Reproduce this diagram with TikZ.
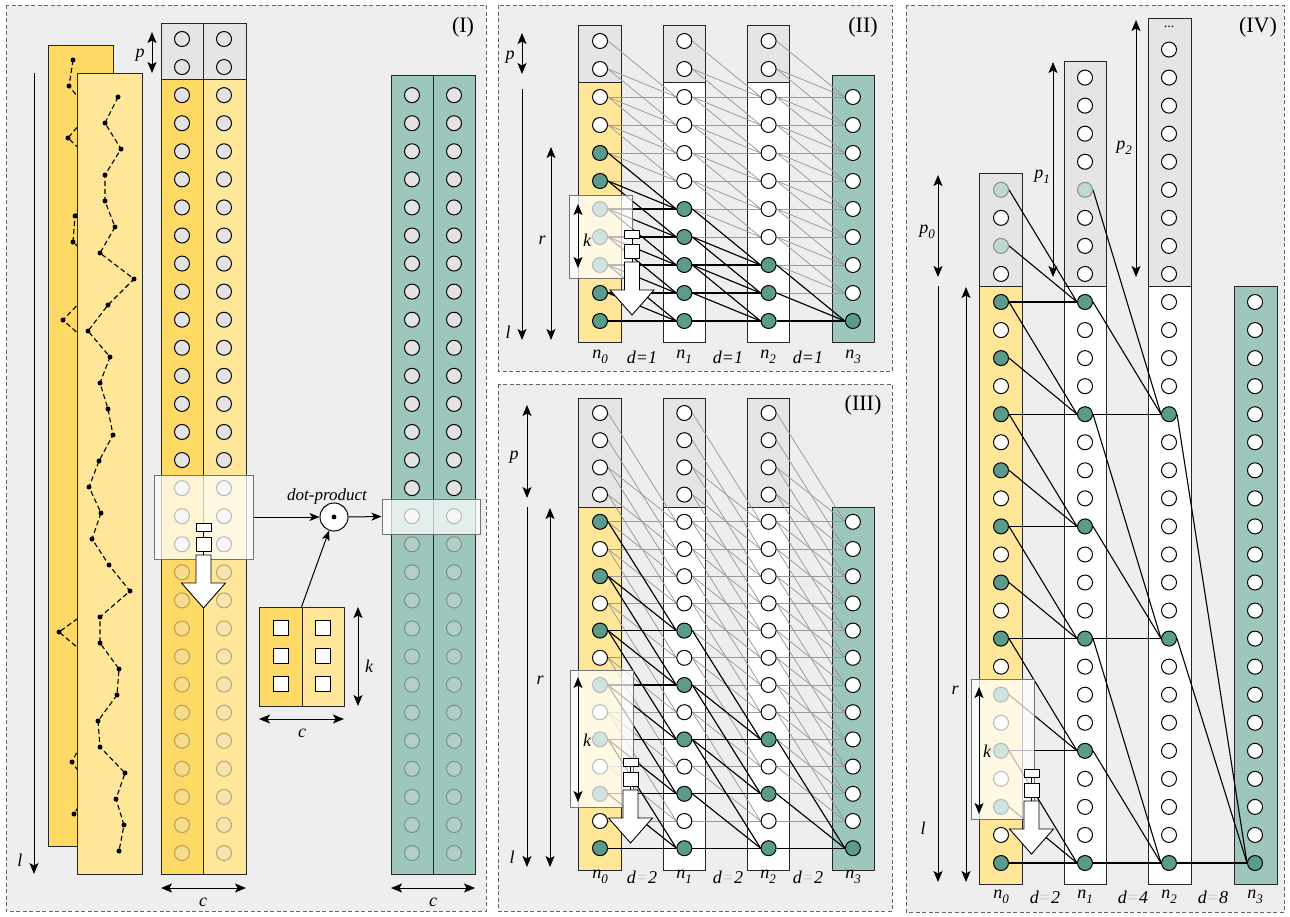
\documentclass[tikz,border=0pt]{standalone}
\usepackage{fontspec}
\setmainfont{Liberation Serif}
\usetikzlibrary{arrows.meta}
\pgfdeclarelayer{bg}
\pgfdeclarelayer{cols}
\pgfdeclarelayer{edges}
\pgfdeclarelayer{front}
\pgfdeclarelayer{top}
\pgfsetlayers{bg,cols,edges,main,front,top}
\definecolor{panelbg}{HTML}{EEEEEE}
\definecolor{yelD}{HTML}{FFD966}
\definecolor{yelL}{HTML}{FFE699}
\definecolor{padg}{HTML}{E5E5E5}
\definecolor{tealC}{HTML}{9DC6BC}
\definecolor{tealF}{HTML}{5A9B8B}
\definecolor{circg}{HTML}{E3E3E3}
\definecolor{framec}{HTML}{666666}
\newcommand\gatedraw[2]{%
 \draw[line width=0.9pt, fill=white] (#1-7.5,#2) rectangle (#1+7.5,#2+8);
 \draw[line width=0.9pt] (#1,#2+8) -- (#1,#2+14);
 \draw[line width=0.9pt, fill=white] (#1-7.5,#2+14) rectangle (#1+7.5,#2+28);
 \draw[line width=0.9pt] (#1,#2+28) -- (#1,#2+32);
 \draw[line width=0.9pt, fill=white] (#1-7.5,#2+32) -- (#1+7.5,#2+32) -- (#1+7.5,#2+60) -- (#1+22,#2+60) -- (#1,#2+85) -- (#1-22,#2+60) -- (#1-7.5,#2+60) -- cycle;}
\newcommand\nsub[2]{\textit{#1}\raisebox{-0.28em}{\fontsize{13}{13}\selectfont\textit{#2}}}
\newcommand\deq[2]{\textit{d}{\color{#1}=}\textit{#2}}
\tikzset{
 panel/.style={fill=panelbg, draw=framec, line width=0.8pt, dash pattern=on 4pt off 2.5pt},
 col/.style={draw=black!85, line width=1pt},
 cel/.style={circle, draw=black, line width=1pt, minimum size=15pt, inner sep=0pt, fill=white},
 celg/.style={cel, fill=circg},
 celt/.style={cel, fill=tealF},
 celfade/.style={cel, fill=circg, draw opacity=0.28, fill opacity=0.3},
 celft/.style={cel, fill=tealF!38, draw=gray!90},
 wind/.style={draw=black!55, line width=1pt, fill=white, fill opacity=0.72},
 gedge/.style={draw=gray!80, line width=0.75pt},
 bedge/.style={draw=black, line width=1.1pt},
 dim/.style={{Stealth[length=11pt,width=9pt,inset=2.5pt]}-{Stealth[length=11pt,width=9pt,inset=2.5pt]}, line width=1pt},
 dimd/.style={-{Stealth[length=11pt,width=9pt,inset=2.5pt]}, line width=1pt},
 conn/.style={-{Stealth[length=10pt,width=8pt,inset=2.5pt]}, line width=1pt},
 lab/.style={font=\fontsize{18}{18}\selectfont\itshape, inner sep=0pt},
 plab/.style={font=\fontsize{22}{22}\selectfont, inner sep=0pt},
 zig/.style={line width=1.1pt, dash pattern=on 5pt off 3pt},
}
\def\backzig{73/60,69/86,90/112,68/138,95/164,85/190,75/216,73/242,100/268,88/294,63/320,92/346,100/372,85/398,105/424,95/450,88/476,100/502,110/528,90/554,85/580,95/606,59/632,90/658,80/684,95/710,85/736,72/762,90/788,74/814}
\def\frontzig{118/97,105/123,121/149,105/175,105/201,115/227,100/253,134/279,108/305,88/331,110/357,100/383,108/409,113/435,99/461,89/487,101/513,92/539,109/565,130/591,100/617,100/643,119/669,117/695,98/721,100/747,125/773,116/799,124/825,119/851}
\begin{document}
\begin{tikzpicture}[x=1pt,y=-1pt]
\useasboundingbox (0,0) rectangle (1290,916);
\begin{pgfonlayer}{bg}
\fill[white] (0,0) rectangle (1290,916);
\draw[panel] (6,5) rectangle (486,911);
\draw[panel] (498,5) rectangle (892,371);
\draw[panel] (498,384) rectangle (892,911);
\draw[panel] (906,5) rectangle (1284,912);
\end{pgfonlayer}
% ================= PANEL I =================
\begin{pgfonlayer}{cols}
\draw[col, fill=yelD] (48,45) rectangle (113,846);
\draw[zig] (73,60) \foreach \xx/\yy in \backzig {-- (\xx,\yy)};
\foreach \xx/\yy in \backzig {\fill (\xx,\yy) circle (2.5pt);}
\draw[col, fill=yelL] (77,73) rectangle (142,874);
\draw[zig] (118,97) \foreach \xx/\yy in \frontzig {-- (\xx,\yy)};
\foreach \xx/\yy in \frontzig {\fill (\xx,\yy) circle (2.5pt);}
\draw[col, fill=padg] (161,23) rectangle (203,79);
\draw[col, fill=padg] (203,23) rectangle (246,79);
\draw[col, fill=yelD] (161,79) rectangle (203,874);
\draw[col, fill=yelL] (203,79) rectangle (246,874);
\draw[col, fill=tealC] (391,75) rectangle (433,874);
\draw[col, fill=tealC] (433,75) rectangle (475,874);
\draw[col, fill=yelD] (259,607) rectangle (302,706);
\draw[col, fill=yelL] (302,607) rectangle (344,706);
\end{pgfonlayer}
\foreach \ii in {0,...,29}{
  \pgfmathsetmacro{\yy}{39+28.07*\ii}
  \ifnum\ii<19 \def\sty{celg}\else\def\sty{celfade}\fi
  \node[\sty] (P1a\ii) at (182,\yy) {};
  \node[\sty] (P1b\ii) at (224,\yy) {};
}
\foreach \ii in {2,...,29}{
  \pgfmathsetmacro{\yy}{39+28.07*\ii}
  \ifnum\ii<18 \def\sty{celg}\else\def\sty{celfade}\fi
  \node[\sty] (P1o\ii) at (412,\yy) {};
  \node[\sty] (P1p\ii) at (454,\yy) {};
}
\foreach \ki/\kx/\ky in {1/281/628,2/281/656,3/281/684,4/323/628,5/323/656,6/323/684}{
  \node[draw, line width=1pt, fill=white, minimum size=15pt, inner sep=0pt] (K\ki) at (\kx,\ky) {};
}
\node[minimum width=85pt, minimum height=99pt, inner sep=0pt] (kern) at (301.5,656.5) {};
\node[circle, draw, line width=1pt, fill=white, minimum size=28pt, inner sep=0pt] (dotp) at (334,517) {};
\fill (dotp.center) circle (2.4pt);
\node[font=\fontsize{17}{17}\selectfont\itshape, inner sep=0pt] (dotlab) at (327,496) {dot-product};
\begin{pgfonlayer}{front}
\node[wind, minimum width=99pt, minimum height=84pt, inner sep=0pt] (P1win) at (203.5,517) {};
\node[wind, minimum width=98pt, minimum height=35pt, inner sep=0pt] (P1owin) at (431,516.5) {};
\end{pgfonlayer}
\begin{pgfonlayer}{top}
\gatedraw{203.5}{523}
\end{pgfonlayer}
\draw[conn] (P1win.east) -- (dotp.west);
\draw[conn] (dotp.east) -- (P1owin.west);
\draw[conn] (kern.north) -- (dotp);
\coordinate (P1la) at (34,73); \coordinate (P1lb) at (34,874);
\draw[dimd] (P1la) -- (P1lb);
\node[lab] (P1ll) at (20,860) {l};
\coordinate (P1pa) at (152,32); \coordinate (P1pb) at (152,73);
\draw[dim] (P1pa) -- (P1pb);
\node[lab] (P1pl) at (140,55) {p};
\coordinate (P1ca) at (161,888); \coordinate (P1cb) at (246,888);
\draw[dim] (P1ca) -- (P1cb);
\node[lab] (P1cl) at (203,902) {c};
\coordinate (P1oa) at (391,888); \coordinate (P1ob) at (475,888);
\draw[dim] (P1oa) -- (P1ob);
\node[lab] (P1ocl) at (433,902) {c};
\coordinate (P1ka) at (358,607); \coordinate (P1kb) at (358,706);
\draw[dim] (P1ka) -- (P1kb);
\node[lab] (P1kl) at (369,666) {k};
\coordinate (P1kca) at (259,719); \coordinate (P1kcb) at (344,719);
\draw[dim] (P1kca) -- (P1kcb);
\node[lab] (P1kcl) at (302,733) {c};
\node[plab] (P1t) at (463,27) {(I)};
% ================= PANEL II =================
\begin{pgfonlayer}{cols}
\draw[col, fill=padg] (578,25) rectangle (621,82);
\draw[col, fill=yelL] (578,82) rectangle (621,342);
\draw[col, fill=padg] (663,25) rectangle (705,82);
\draw[col, fill=white] (663,82) rectangle (705,342);
\draw[col, fill=padg] (747,25) rectangle (789,82);
\draw[col, fill=white] (747,82) rectangle (789,342);
\draw[col, fill=tealC] (832,75) rectangle (874,342);
\end{pgfonlayer}
\foreach \ci/\xx in {0/600,1/684.3,2/768.6,3/852.9}{
  \pgfmathtruncatemacro{\th}{4+2*\ci}
  \pgfmathtruncatemacro{\sj}{\ci==3 ? 2 : 0}
  \foreach \ji in {\sj,...,10}{
    \ifnum\ji<\th \def\sty{cel}\else\def\sty{celt}\fi
    \node[\sty] (P2c\ci r\ji) at (\xx,{41+28*\ji}) {};
  }
}
\begin{pgfonlayer}{edges}
\foreach \ci in {1,2,3}{
  \pgfmathtruncatemacro{\pci}{\ci-1}
  \foreach \ji in {2,...,10}{
    \foreach \di in {0,1,2}{
      \pgfmathtruncatemacro{\si}{\ji-\di}
      \draw[gedge] (P2c\pci r\si.east) -- (P2c\ci r\ji.west);
    }
  }
}
\foreach \ci/\lst in {1/{6,7,8,9,10},2/{8,9,10},3/{10}}{
  \pgfmathtruncatemacro{\pci}{\ci-1}
  \foreach \ji in \lst{
    \foreach \di in {0,1,2}{
      \pgfmathtruncatemacro{\si}{\ji-\di}
      \draw[bedge] (P2c\pci r\si.east) -- (P2c\ci r\ji.west);
    }
  }
}
\end{pgfonlayer}
\begin{pgfonlayer}{front}
\draw[wind] (569,195) rectangle (632,278);
\end{pgfonlayer}
\begin{pgfonlayer}{top}
\gatedraw{632}{230}
\coordinate (P2ka) at (578,204); \coordinate (P2kb) at (578,268);
\draw[dim] (P2ka) -- (P2kb);
\node[lab] (P2kl) at (587,240) {k};
\end{pgfonlayer}
\coordinate (P2pa) at (522,33); \coordinate (P2pb) at (522,74);
\draw[dim] (P2pa) -- (P2pb);
\node[lab] (P2pl) at (510,57) {p};
\coordinate (P2la) at (522,89); \coordinate (P2lb) at (522,340);
\draw[dimd] (P2la) -- (P2lb);
\node[lab] (P2ll) at (508,332) {l};
\coordinate (P2ra) at (551,147); \coordinate (P2rb) at (551,340);
\draw[dim] (P2ra) -- (P2rb);
\node[lab] (P2rl) at (542,240) {r};
\node[lab] (P2n0) at (600,357) {\nsub{n}{0}};
\node[lab] (P2d1) at (642,357) {\deq{black}{1}};
\node[lab] (P2n1) at (684,357) {\nsub{n}{1}};
\node[lab] (P2d2) at (728,357) {\deq{black}{1}};
\node[lab] (P2n2) at (768,357) {\nsub{n}{2}};
\node[lab] (P2d3) at (808,357) {\deq{black}{1}};
\node[lab] (P2n3) at (853,357) {\nsub{n}{3}};
\node[plab] (P2t) at (863,27) {(II)};
% ================= PANEL III =================
\begin{pgfonlayer}{cols}
\draw[col, fill=padg] (578,398) rectangle (621,507);
\draw[col, fill=yelL] (578,507) rectangle (621,870);
\draw[col, fill=padg] (663,398) rectangle (705,507);
\draw[col, fill=white] (663,507) rectangle (705,870);
\draw[col, fill=padg] (747,398) rectangle (789,507);
\draw[col, fill=white] (747,507) rectangle (789,870);
\draw[col, fill=tealC] (832,507) rectangle (874,870);
\end{pgfonlayer}
\foreach \ci/\xx in {0/600,1/684.3,2/768.6,3/852.9}{
  \pgfmathtruncatemacro{\th}{4+4*\ci}
  \pgfmathtruncatemacro{\sj}{\ci==3 ? 4 : 0}
  \foreach \ji in {\sj,...,16}{
    \pgfmathtruncatemacro{\ev}{mod(\ji,2)}
    \def\sty{cel}
    \ifnum\ji<\th\else\ifnum\ev=0 \def\sty{celt}\fi\fi
    \node[\sty] (P3c\ci r\ji) at (\xx,{413+27.2*\ji}) {};
  }
}
\begin{pgfonlayer}{edges}
\foreach \ci in {1,2,3}{
  \pgfmathtruncatemacro{\pci}{\ci-1}
  \foreach \ji in {4,...,16}{
    \foreach \di in {0,2,4}{
      \pgfmathtruncatemacro{\si}{\ji-\di}
      \draw[gedge] (P3c\pci r\si.east) -- (P3c\ci r\ji.west);
    }
  }
}
\foreach \ci/\lst in {1/{8,10,12,14,16},2/{12,14,16},3/{16}}{
  \pgfmathtruncatemacro{\pci}{\ci-1}
  \foreach \ji in \lst{
    \foreach \di in {0,2,4}{
      \pgfmathtruncatemacro{\si}{\ji-\di}
      \draw[bedge] (P3c\pci r\si.east) -- (P3c\ci r\ji.west);
    }
  }
}
\end{pgfonlayer}
\begin{pgfonlayer}{front}
\draw[wind] (570,670) rectangle (633,807);
\end{pgfonlayer}
\begin{pgfonlayer}{top}
\gatedraw{630.5}{758}
\coordinate (P3ka) at (578,677); \coordinate (P3kb) at (578,802);
\draw[dim] (P3ka) -- (P3kb);
\node[lab] (P3kl) at (587,740) {k};
\end{pgfonlayer}
\coordinate (P3pa) at (527,405); \coordinate (P3pb) at (527,498);
\draw[dim] (P3pa) -- (P3pb);
\node[lab] (P3pl) at (514,457) {p};
\coordinate (P3la) at (527,507); \coordinate (P3lb) at (527,867);
\draw[dimd] (P3la) -- (P3lb);
\node[lab] (P3ll) at (512,857) {l};
\coordinate (P3ra) at (550,508); \coordinate (P3rb) at (550,867);
\draw[dim] (P3ra) -- (P3rb);
\node[lab] (P3rl) at (540,680) {r};
\node[lab] (P3n0) at (600,877) {\nsub{n}{0}};
\node[lab] (P3d1) at (642,877) {\deq{gray!45}{2}};
\node[lab] (P3n1) at (684,877) {\nsub{n}{1}};
\node[lab] (P3d2) at (728,877) {\deq{gray!45}{2}};
\node[lab] (P3n2) at (768,877) {\nsub{n}{2}};
\node[lab] (P3d3) at (808,877) {\deq{gray!45}{2}};
\node[lab] (P3n3) at (853,877) {\nsub{n}{3}};
\node[plab] (P3t) at (863,405) {(III)};
% ================= PANEL IV =================
\begin{pgfonlayer}{cols}
\draw[col, fill=padg] (979,173) rectangle (1022,286);
\draw[col, fill=yelL] (979,286) rectangle (1022,884);
\draw[col, fill=padg] (1064,61) rectangle (1106,286);
\draw[col, fill=white] (1064,286) rectangle (1106,884);
\draw[col, fill=padg] (1148,18) rectangle (1191,286);
\draw[col, fill=white] (1148,286) rectangle (1191,884);
\draw[col, fill=tealC] (1234,286) rectangle (1277,884);
\end{pgfonlayer}
\foreach \ii in {-4,...,20}{
  \pgfmathtruncatemacro{\ev}{abs(mod(\ii,2))}
  \def\sty{cel}
  \ifnum\ev=0 \ifnum\ii<0 \def\sty{celft}\else\def\sty{celt}\fi\fi
  \node[\sty] (P4c0r\ii) at (1001,{302+28.05*\ii}) {};
}
\foreach \ii in {-8,...,20}{
  \pgfmathtruncatemacro{\ev}{abs(mod(\ii,4))}
  \def\sty{cel}
  \ifnum\ii=-4 \def\sty{celft}\fi
  \ifnum\ii<0 \else\ifnum\ev=0 \def\sty{celt}\fi\fi
  \node[\sty] (P4c1r\ii) at (1085,{302+28.05*\ii}) {};
}
\foreach \ii in {-9,...,20}{
  \def\sty{cel}
  \ifnum\ii=4 \def\sty{celt}\fi
  \ifnum\ii=12 \def\sty{celt}\fi
  \ifnum\ii=20 \def\sty{celt}\fi
  \node[\sty] (P4c2r\ii) at (1169,{302+28.05*\ii}) {};
}
\foreach \ii in {0,...,20}{
  \def\sty{cel}
  \ifnum\ii=20 \def\sty{celt}\fi
  \node[\sty] (P4c3r\ii) at (1255,{302+28.05*\ii}) {};
}
\node[font=\fontsize{14}{14}\selectfont, inner sep=0pt] (P4dots) at (1169,27) {...};
\begin{pgfonlayer}{edges}
\foreach \ri in {0,4,...,20}{
  \foreach \di in {0,2,4}{
    \pgfmathtruncatemacro{\si}{\ri-\di}
    \draw[bedge] (P4c0r\si.east) -- (P4c1r\ri.west);
  }
}
\foreach \ri in {4,12,20}{
  \foreach \di in {0,4,8}{
    \pgfmathtruncatemacro{\si}{\ri-\di}
    \draw[bedge] (P4c1r\si.east) -- (P4c2r\ri.west);
  }
}
\foreach \si in {4,12,20}{
  \draw[bedge] (P4c2r\si.east) -- (P4c3r20.west);
}
\end{pgfonlayer}
\begin{pgfonlayer}{front}
\draw[wind] (971,679) rectangle (1034,819);
\end{pgfonlayer}
\begin{pgfonlayer}{top}
\gatedraw{1031.5}{769}
\coordinate (P4ka) at (979,687); \coordinate (P4kb) at (979,814);
\draw[dim] (P4ka) -- (P4kb);
\node[lab] (P4kl) at (987,751) {k};
\end{pgfonlayer}
\coordinate (P4p0a) at (938,175); \coordinate (P4p0b) at (938,277);
\draw[dim] (P4p0a) -- (P4p0b);
\node[lab] (P4p0l) at (927,232) {\nsub{p}{0}};
\coordinate (P4la) at (938,286); \coordinate (P4lb) at (938,882);
\draw[dimd] (P4la) -- (P4lb);
\node[lab] (P4ll) at (923,828) {l};
\coordinate (P4ra) at (966,287); \coordinate (P4rb) at (966,882);
\draw[dim] (P4ra) -- (P4rb);
\node[lab] (P4rl) at (955,690) {r};
\coordinate (P4p1a) at (1053,62); \coordinate (P4p1b) at (1053,277);
\draw[dim] (P4p1a) -- (P4p1b);
\node[lab] (P4p1l) at (1042,177) {\nsub{p}{1}};
\coordinate (P4p2a) at (1136,20); \coordinate (P4p2b) at (1136,277);
\draw[dim] (P4p2a) -- (P4p2b);
\node[lab] (P4p2l) at (1124,148) {\nsub{p}{2}};
\node[lab] (P4n0) at (1001,897) {\nsub{n}{0}};
\node[lab] (P4d1) at (1045,897) {\deq{gray!45}{2}};
\node[lab] (P4n1) at (1085,897) {\nsub{n}{1}};
\node[lab] (P4d2) at (1133,897) {\deq{gray!45}{4}};
\node[lab] (P4n2) at (1169,897) {\nsub{n}{2}};
\node[lab] (P4d3) at (1213,897) {\deq{gray!45}{8}};
\node[lab] (P4n3) at (1255,897) {\nsub{n}{3}};
\node[plab] (P4t) at (1258,27) {(IV)};
\end{tikzpicture}
\end{document}
